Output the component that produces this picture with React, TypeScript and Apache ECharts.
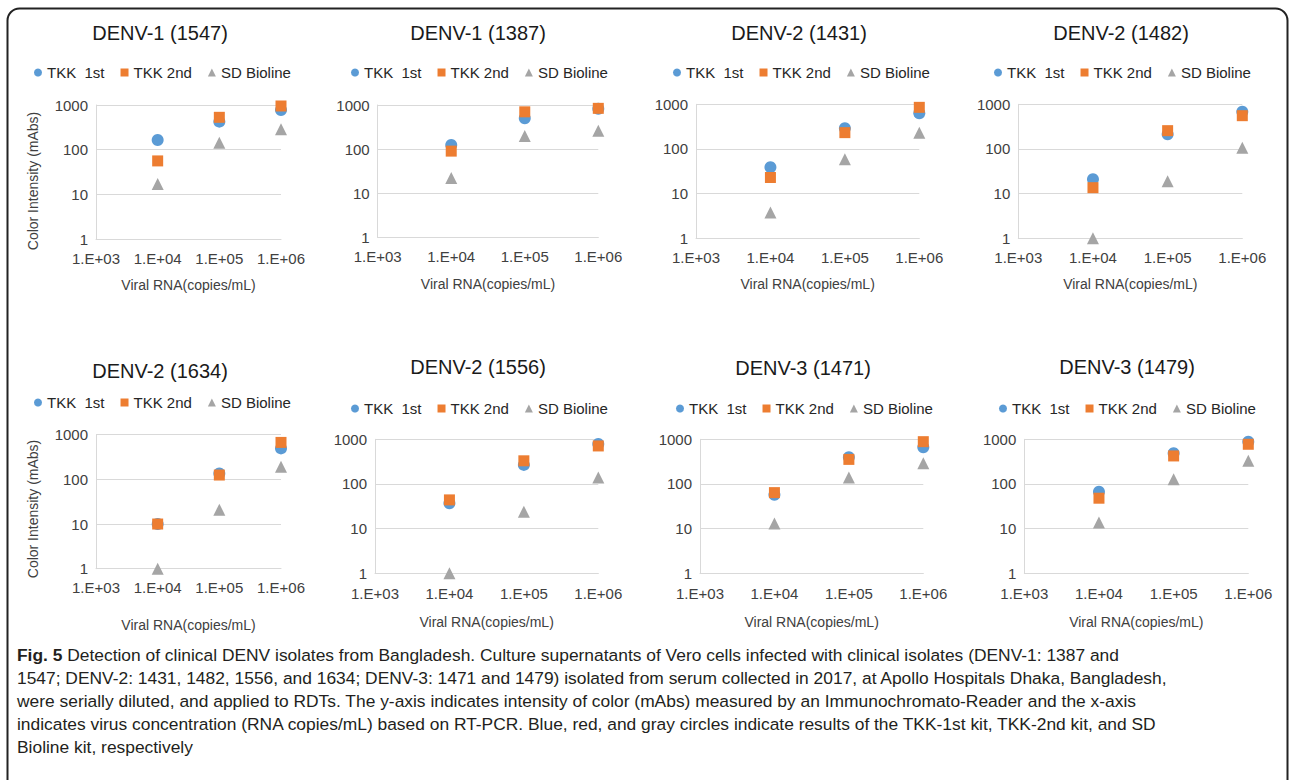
import React, { useEffect, useRef } from "react";
import * as echarts from "echarts";

const FONT = "'Liberation Sans', Arial, Helvetica, sans-serif";

const panelTitles = [
  "DENV-1 (1547)", "DENV-1 (1387)", "DENV-2 (1431)", "DENV-2 (1482)",
  "DENV-2 (1634)", "DENV-2 (1556)", "DENV-3 (1471)", "DENV-3 (1479)",
];
const seriesNames = ["TKK  1st", "TKK 2nd", "SD Bioline"];
const viralRNA = [1e4, 1e5, 1e6];

const tkk1st = [
  [165, 424, 775], [124, 500, 820], [39, 290, 630], [21, 213, 684],
  [10, 136, 494], [37, 267, 787], [57, 396, 660], [67, 487, 885],
];
const tkk2nd = [
  [56, 530, 950], [90, 700, 840], [23, 232, 855], [13.6, 257, 556],
  [10, 125, 672], [44, 330, 710], [64, 355, 885], [48, 424, 774],
];
const sdBioline = [
  [17, 143, 285], [22, 198, 262], [3.8, 59, 232], [1, 19, 107],
  [1, 21, 192], [1, 24, 139], [13, 139, 290], [13.7, 127, 333],
];
const yTicks = [1, 10, 100, 1000];
const xTickExponents = [3, 4, 5, 6];
const yAxisName = "Color Intensity (mAbs)";
const xAxisName = "Viral RNA(copies/mL)";

const captionLines = [
  "{b|Fig. 5} Detection of clinical DENV isolates from Bangladesh. Culture supernatants of Vero cells infected with clinical isolates (DENV-1: 1387 and",
  "1547; DENV-2: 1431, 1482, 1556, and 1634; DENV-3: 1471 and 1479) isolated from serum collected in 2017, at Apollo Hospitals Dhaka, Bangladesh,",
  "were serially diluted, and applied to RDTs. The y-axis indicates intensity of color (mAbs) measured by an Immunochromato-Reader and the x-axis",
  "indicates virus concentration (RNA copies/mL) based on RT-PCR. Blue, red, and gray circles indicate results of the TKK-1st kit, TKK-2nd kit, and SD",
  "Bioline kit, respectively",
];

// layout (pixels)
const gridL = [96, 377.7, 696, 1018.3, 96, 375, 700, 1024.3];
const gridR = [281, 598.3, 919.3, 1242.3, 281, 598.3, 923.3, 1248.3];
const gridT = [105, 105, 104.3, 104.3, 434.7, 439.3, 439.3, 439.3];
const gridB = [239, 237.3, 238.3, 238.3, 568.7, 573.3, 573.3, 573.3];
const titleX = [160, 478, 799, 1121, 160, 478, 803, 1127];
const titleY = [33, 33, 33, 33, 371, 367, 368, 367];
const legendLeft = [34, 351, 673, 994, 34, 351, 676, 999];
const legendY = [73, 73, 73, 73, 403, 409, 409, 409];
const xLabelMargin = [12, 12, 12, 12, 11, 13, 13, 13];
const xNameGap = [39, 40, 39, 39, 49, 42, 42, 42];
const yNamePos = [[33, 181], [33, 509]];

const COLORS = ["#5B9BD5", "#ED7D31", "#A5A5A5"];
const SYMBOLS = ["circle", "rect", "triangle"];
const SIZES = [12, 11, 12];

export default function App() {
  const ref = useRef<HTMLDivElement>(null);
  useEffect(() => {
    if (!ref.current) return;
    const chart = echarts.init(ref.current, undefined, { renderer: "svg" });
    const idx = panelTitles.map((_, i) => i);
    const allData = [tkk1st, tkk2nd, sdBioline];

    const series: any[] = [];
    idx.forEach((i) => {
      allData.forEach((arr, s) => {
        series.push({
          type: "scatter",
          name: seriesNames[s],
          xAxisIndex: i,
          yAxisIndex: i,
          symbol: SYMBOLS[s],
          symbolSize: SIZES[s],
          itemStyle: { color: COLORS[s], opacity: 1 },
          data: viralRNA.map((x, j) => [x, arr[i][j]]),
        });
      });
    });

    const graphic: any[] = [
      {
        type: "rect",
        shape: { x: 7.5, y: 8.5, width: 1280, height: 830, r: 12 },
        style: { fill: "none", stroke: "#222", lineWidth: 2 },
        silent: true,
      },
    ];
    yNamePos.forEach(([x, y]) => {
      graphic.push({
        type: "text",
        x,
        y,
        rotation: Math.PI / 2,
        style: {
          text: yAxisName,
          fill: "#404040",
          fontSize: 14,
          fontFamily: FONT,
          align: "center",
          verticalAlign: "middle",
        },
      });
    });
    captionLines.forEach((line, k) => {
      graphic.push({
        type: "text",
        x: 17,
        y: 655 + k * 23,
        style: {
          text: line,
          fill: "#231f20",
          fontSize: 17.4,
          fontFamily: FONT,
          verticalAlign: "middle",
          rich: {
            b: { fontWeight: "bold", fontSize: 17.4, fontFamily: FONT, fill: "#231f20" },
          },
        },
      });
    });

    const option: any = {
      animation: false,
      textStyle: { fontFamily: FONT },
      title: idx.map((i) => ({
        text: panelTitles[i],
        left: titleX[i],
        top: titleY[i] - 10,
        textAlign: "center",
        padding: 0,
        textStyle: { fontSize: 20, fontWeight: "normal", color: "#1a1a1a", fontFamily: FONT },
      })),
      legend: idx.map((i) => ({
        data: seriesNames,
        left: legendLeft[i],
        top: legendY[i] - 8,
        padding: 0,
        itemWidth: 8,
        itemHeight: 8,
        itemGap: 16,
        selectedMode: false,
        textStyle: { fontSize: 15, color: "#262626", fontFamily: FONT },
      })),
      grid: idx.map((i) => ({
        left: gridL[i],
        top: gridT[i],
        width: gridR[i] - gridL[i],
        height: gridB[i] - gridT[i],
        containLabel: false,
      })),
      xAxis: idx.map((i) => ({
        type: "log",
        logBase: 10,
        gridIndex: i,
        min: Math.pow(10, xTickExponents[0]),
        max: Math.pow(10, xTickExponents[xTickExponents.length - 1]),
        axisLine: { show: true, onZero: false, lineStyle: { color: "#D9D9D9", width: 1 } },
        axisTick: { show: false },
        splitLine: { show: false },
        axisLabel: {
          fontSize: 15,
          color: "#404040",
          margin: xLabelMargin[i],
          fontFamily: FONT,
          formatter: (v: number) => {
            const e = Math.round(Math.log10(v));
            return "1.E+" + (e < 10 ? "0" + e : String(e));
          },
        },
        name: xAxisName,
        nameLocation: "middle",
        nameGap: xNameGap[i],
        nameTextStyle: { fontSize: 14, color: "#404040", fontFamily: FONT },
      })),
      yAxis: idx.map((i) => ({
        type: "log",
        logBase: 10,
        gridIndex: i,
        min: yTicks[0],
        max: yTicks[yTicks.length - 1],
        axisLine: { show: true, lineStyle: { color: "#D9D9D9", width: 1 } },
        axisTick: { show: false },
        splitLine: { show: true, lineStyle: { color: "#D9D9D9", width: 1 } },
        axisLabel: {
          fontSize: 15,
          color: "#404040",
          margin: 8,
          fontFamily: FONT,
          formatter: (v: number) => String(Math.round(v)),
        },
      })),
      series,
      graphic,
    };
    chart.setOption(option);
    return () => chart.dispose();
  }, []);
  return (
    <div
      ref={ref}
      style={{ position: "fixed", left: 0, top: 0, width: 1289, height: 780, background: "#fff" }}
    />
  );
}
